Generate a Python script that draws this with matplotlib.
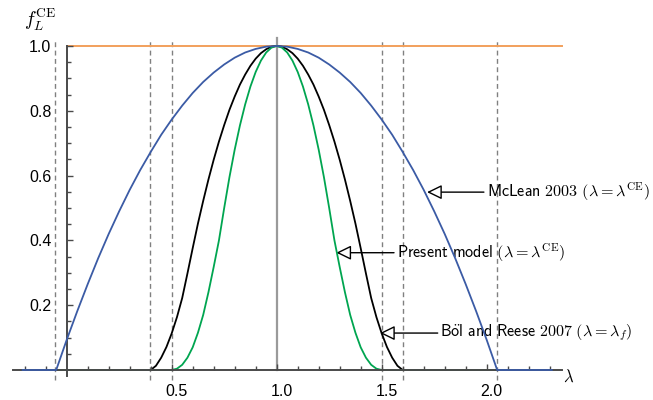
import matplotlib
matplotlib.use("Agg")
import matplotlib.pyplot as plt
import matplotlib.transforms as mtrans
import numpy as np

plt.rcParams['mathtext.fontset'] = 'cm'
plt.rcParams['font.family'] = ['Liberation Sans', 'DejaVu Sans']

# ---------------- data ----------------
# McLean 2003, sampled every 0.05 from -0.05 to 2.05 (flat zero beyond)
lam_mclean = [-0.21] + list(np.round(np.arange(-0.05, 2.051, 0.05), 3)) + [2.31]
f_mclean = [0,
            0, 0.093, 0.181, 0.265, 0.345, 0.420, 0.490, 0.556, 0.617, 0.673, 0.726,
            0.773, 0.816, 0.855, 0.889, 0.918, 0.943, 0.964, 0.980, 0.991, 0.998,
            1.0,
            0.998, 0.991, 0.980, 0.964, 0.943, 0.918, 0.889, 0.855, 0.816, 0.773,
            0.726, 0.673, 0.617, 0.556, 0.490, 0.420, 0.345, 0.265, 0.181, 0.093, 0,
            0]

# Boel and Reese 2007, sampled every 0.025 from 0.4 to 1.6
lam_boel = [-0.21] + list(np.round(np.arange(0.4, 1.6001, 0.025), 3)) + [2.31]
f_boel = [0,
          0, 0.013, 0.038, 0.071, 0.113, 0.163, 0.222, 0.298, 0.376, 0.452, 0.522,
          0.588, 0.649, 0.705, 0.756, 0.803, 0.844, 0.881, 0.912, 0.939, 0.961,
          0.978, 0.990, 0.998,
          1.0,
          0.998, 0.990, 0.978, 0.961, 0.939, 0.912, 0.881, 0.844, 0.803, 0.756,
          0.705, 0.649, 0.588, 0.522, 0.452, 0.376, 0.298, 0.222, 0.163, 0.113,
          0.071, 0.038, 0.013, 0,
          0]

# present model, sampled every 0.025 from 0.5 to 1.5
lam_present = [-0.21] + list(np.round(np.arange(0.5, 1.5001, 0.025), 3)) + [2.31]
f_present = [0,
             0, 0.004, 0.016, 0.038, 0.07, 0.115, 0.17, 0.24, 0.318, 0.40, 0.50,
             0.595, 0.68, 0.755, 0.82, 0.875, 0.92, 0.955, 0.98, 0.995,
             1.0,
             0.995, 0.98, 0.955, 0.92, 0.875, 0.82, 0.755, 0.68, 0.595, 0.50,
             0.40, 0.318, 0.24, 0.17, 0.115, 0.07, 0.038, 0.016, 0.004, 0,
             0]

# constant line and dashed markers
lam_const = [0.0, 2.357]
f_const = [1.0, 1.0]
lam_dashed = [-0.056, 0.397, 0.5, 1.5, 1.6, 2.05]

xticks_major = [0.5, 1.0, 1.5, 2.0]
xtick_labels = ['0.5', '1.0', '1.5', '2.0']
yticks_major = [0.2, 0.4, 0.6, 0.8, 1.0]
ytick_labels = ['0.2', '0.4', '0.6', '0.8', '1.0']

# ---------------- figure ----------------
fig = plt.figure(figsize=(6.53, 4.0), dpi=100)
ax = fig.add_axes([0, 0, 1, 1])
ax.set_xlim(-0.3176, 2.792)
ax.set_ylim(-0.0926, 1.142)
ax.patch.set_alpha(0)

for s in ['top', 'right']:
    ax.spines[s].set_visible(False)
ax.spines['left'].set_position(('data', 0))
ax.spines['bottom'].set_position(('data', 0))
ax.spines['left'].set_bounds(-0.02, 1.0)
ax.spines['bottom'].set_bounds(-0.255, 2.357)
for s in ['left', 'bottom']:
    ax.spines[s].set_color('#4a4a4a')
    ax.spines[s].set_linewidth(1.4)
    ax.spines[s].set_zorder(4.5)
ax.xaxis.set_zorder(4.5)
ax.yaxis.set_zorder(4.5)

# dashed guides and the vertical at lambda = 1
for xv in lam_dashed:
    ax.plot([xv, xv], [-0.03, 1.02], color='#808080', lw=1.0,
            dashes=(3.5, 2.5), zorder=1)
ax.plot([1.0, 1.0], [0, 1.025], color='#9a9a9a', lw=1.6, zorder=1)

ax.plot(lam_const, f_const, color='#F2A05C', lw=1.4, zorder=2)
ax.plot(lam_boel, f_boel, color='black', lw=1.3, zorder=3)
ax.plot(lam_present, f_present, color='#00A550', lw=1.3, zorder=4)
ax.plot(lam_mclean, f_mclean, color='#3B5BA5', lw=1.3, zorder=5)

# ticks
ax.set_xticks(xticks_major)
ax.set_xticklabels(xtick_labels)
ax.set_xticks([v / 10 for v in range(-2, 24) if v % 5 != 0], minor=True)
ax.set_yticks(yticks_major)
ax.set_yticklabels(ytick_labels)
ax.set_yticks([v / 20 for v in range(1, 20) if v % 4 != 0], minor=True)
ax.tick_params(which='both', direction='in', color='#4a4a4a', width=1.0,
               labelsize=11.5, labelcolor='black')
ax.tick_params(which='major', length=4.5)
ax.tick_params(which='minor', length=2.8)
ax.tick_params(axis='x', pad=10)
ax.tick_params(axis='y', pad=11)

offs = mtrans.ScaledTranslation(5 / 100, 0, fig.dpi_scale_trans)
for lbl in ax.get_xticklabels():
    lbl.set_transform(lbl.get_transform() + offs)

# axis labels
ax.text(-0.125, 1.08, r'$f_L^{\mathrm{CE}}$', fontsize=14, ha='center', va='center')
ax.text(2.363, -0.019, r'$\lambda$', fontsize=12, ha='left', va='center')

# annotations
arrow = dict(arrowstyle='-|>,head_length=0.45,head_width=0.22', fc='white', ec='black',
             lw=1.0, mutation_scale=20, shrinkA=0, shrinkB=0)
ax.annotate(r'$\mathsf{McLean\ 2003}\ (\lambda = \lambda^{\mathrm{CE}})$',
            xy=(1.716, 0.549), xytext=(2.0, 0.549), fontsize=11.6,
            ha='left', va='center', arrowprops=arrow)
ax.annotate(r'$\mathsf{Present\ model}\ (\lambda = \lambda^{\mathrm{CE}})$',
            xy=(1.284, 0.362), xytext=(1.572, 0.362), fontsize=11.6,
            ha='left', va='center', arrowprops=arrow)
ax.annotate(r'$\mathsf{B\ddot{o}l\ and\ Reese\ 2007}\ (\lambda = \lambda_f)$',
            xy=(1.492, 0.114), xytext=(1.78, 0.114), fontsize=11.6,
            ha='left', va='center', arrowprops=arrow)

fig.savefig('out.png', dpi=100)
